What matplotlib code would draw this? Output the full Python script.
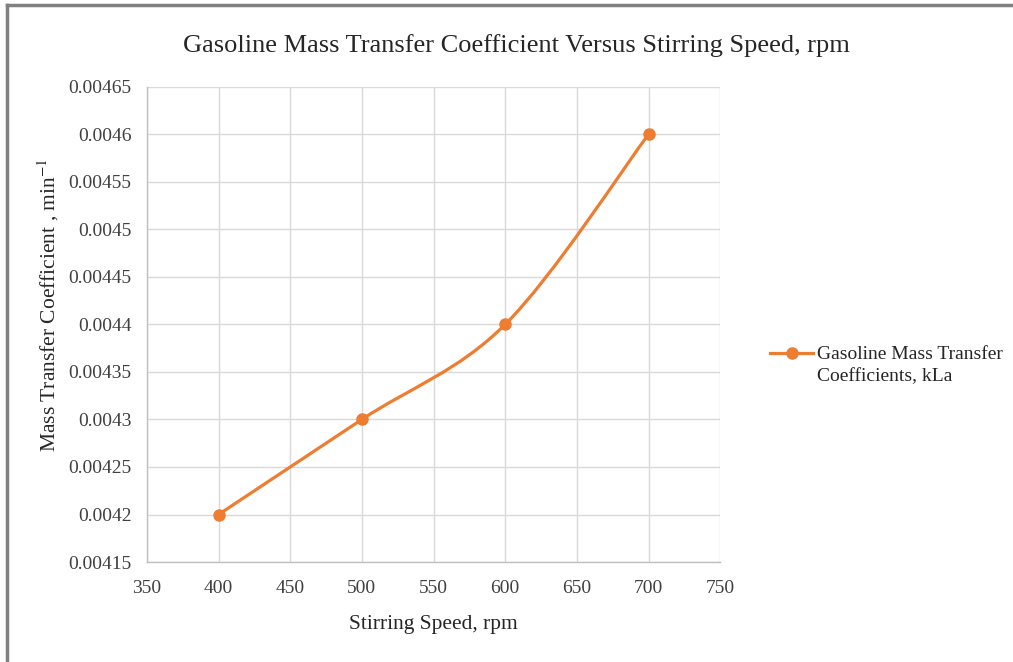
import matplotlib.pyplot as plt
from matplotlib.lines import Line2D
from matplotlib.path import Path
from matplotlib.patches import PathPatch

# data
speed = [400, 500, 600, 700]
kla = [0.0042, 0.0043, 0.0044, 0.0046]
x_ticks = [350, 400, 450, 500, 550, 600, 650, 700, 750]
y_ticks = [0.00415, 0.0042, 0.00425, 0.0043, 0.00435, 0.0044, 0.00445, 0.0045, 0.00455, 0.0046, 0.00465]
y_labels = ['0.00415', '0.0042', '0.00425', '0.0043', '0.00435', '0.0044',
            '0.00445', '0.0045', '0.00455', '0.0046', '0.00465']

orange = '#ED7D31'
plt.rcParams['font.family'] = ['Liberation Serif', 'DejaVu Serif']
plt.rcParams['mathtext.fontset'] = 'stix'


def smooth_path(xs, ys):
    # Excel-style smoothed line: cubic bezier through the points
    pts = list(zip(xs, ys))
    n = len(pts)
    verts = [pts[0]]
    codes = [Path.MOVETO]
    for i in range(n - 1):
        p0 = pts[i - 1] if i > 0 else pts[i]
        p1 = pts[i]
        p2 = pts[i + 1]
        p3 = pts[i + 2] if i + 2 < n else pts[i + 1]
        c1 = (p1[0] + (p2[0] - p0[0]) / 6, p1[1] + (p2[1] - p0[1]) / 6)
        c2 = (p2[0] - (p3[0] - p1[0]) / 6, p2[1] - (p3[1] - p1[1]) / 6)
        verts += [c1, c2, p2]
        codes += [Path.CURVE4] * 3
    return Path(verts, codes)


fig = plt.figure(figsize=(10.13, 6.62), dpi=100)
ax = fig.add_axes([0.145, 0.151, 0.566, 0.718])

ax.add_patch(PathPatch(smooth_path(speed, kla), facecolor='none',
                       edgecolor=orange, lw=2.3, capstyle='round', zorder=3))
ax.plot(speed, kla, 'o', color=orange, ms=8, zorder=4)

ax.set_xlim(350, 750)
ax.set_ylim(0.00415, 0.00465)
ax.set_xticks(x_ticks)
ax.set_xticklabels([str(v) for v in x_ticks])
ax.set_yticks(y_ticks)
ax.set_yticklabels(y_labels)
ax.tick_params(length=0, labelsize=14, colors='#404040')
ax.tick_params(axis='y', pad=11)
ax.tick_params(axis='x', pad=13)
ax.grid(True, color='#d9d9d9', lw=1.0)
for s in ['top', 'right']:
    ax.spines[s].set_visible(False)
for s in ['left', 'bottom']:
    ax.spines[s].set_color('#bfbfbf')
    ax.spines[s].set_linewidth(1.0)

ax.set_xlabel('Stirring Speed, rpm', fontsize=15.5, color='#262626', labelpad=13)
ax.set_ylabel('Mass Transfer Coefficient , min$^{-1}$', fontsize=15.5, color='#262626')
ax.yaxis.set_label_coords(-0.149, 0.54)
fig.text(0.51, 0.932, 'Gasoline Mass Transfer Coefficient Versus Stirring Speed, rpm',
         ha='center', va='center', fontsize=19, color='#262626')

handle = Line2D([], [], color=orange, lw=2.3, marker='o', ms=8)
leg = fig.legend([handle], ['Gasoline Mass Transfer\nCoefficients, kLa'],
                 loc='center left', bbox_to_anchor=(0.743, 0.448), frameon=False,
                 fontsize=14, handlelength=2.2, handletextpad=0.2)
for t in leg.get_texts():
    t.set_color('#262626')
    t.set_linespacing(1.35)
# put the line marker next to the first text line, as Excel does
for col in leg._legend_handle_box.get_children():
    for row in col.get_children():
        row.align = 'top'

# outer border of the chart box
fig.add_artist(Line2D([0.007, 1.0], [0.992, 0.992], color='#808080', lw=2.5))
fig.add_artist(Line2D([0.007, 0.007], [0.0, 0.992], color='#808080', lw=2.5))

fig.savefig('out.png', dpi=100)
